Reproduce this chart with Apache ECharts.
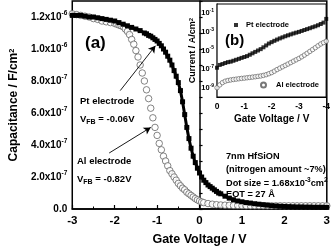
<!DOCTYPE html>
<html><head><meta charset="utf-8">
<script src="https://cdn.jsdelivr.net/npm/echarts@6/dist/echarts.min.js"></script>
<style>html,body{margin:0;padding:0;background:#fff}#c{width:333px;height:251px}</style>
</head><body><div id="c"></div>
<script>
// Main plot (a): C-V curves
const ptV = [-3.0,-2.9,-2.8,-2.7,-2.6,-2.5,-2.4,-2.3,-2.2,-2.1,-2.0,-1.9,-1.8,-1.7,-1.6,-1.5,-1.4,-1.3,-1.25,-1.2,-1.15,-1.1,-1.05,-1.0,-0.95,-0.9,-0.85,-0.8,-0.75,-0.7,-0.65,-0.6,-0.55,-0.5,-0.45,-0.4,-0.35,-0.3,-0.25,-0.2,-0.15,-0.1,-0.05,0.0,0.05,0.1,0.15,0.2,0.25,0.3,0.35,0.4,0.45,0.5,0.6,0.7,0.8,0.9,1.0,1.1,1.2,1.3,1.4,1.5,1.6,1.7,1.8,1.9,2.0,2.1,2.2,2.3,2.4,2.5,2.6,2.7,2.8,2.9,3.0];
const ptC = [1.21e-6,1.21e-6,1.21e-6,1.205e-6,1.20e-6,1.20e-6,1.195e-6,1.19e-6,1.185e-6,1.18e-6,1.175e-6,1.165e-6,1.155e-6,1.145e-6,1.135e-6,1.125e-6,1.115e-6,1.10e-6,1.095e-6,1.085e-6,1.08e-6,1.07e-6,1.06e-6,1.05e-6,1.035e-6,1.02e-6,1.0e-6,0.98e-6,0.955e-6,0.93e-6,0.90e-6,0.865e-6,0.83e-6,0.79e-6,0.74e-6,0.67e-6,0.59e-6,0.51e-6,0.44e-6,0.38e-6,0.33e-6,0.29e-6,0.255e-6,0.225e-6,0.20e-6,0.18e-6,0.165e-6,0.15e-6,0.14e-6,0.13e-6,0.12e-6,0.11e-6,0.10e-6,0.095e-6,0.08e-6,0.068e-6,0.058e-6,0.05e-6,0.045e-6,0.04e-6,0.037e-6,0.033e-6,0.03e-6,0.027e-6,0.024e-6,0.021e-6,0.019e-6,0.017e-6,0.016e-6,0.015e-6,0.014e-6,0.013e-6,0.013e-6,0.012e-6,0.012e-6,0.011e-6,0.011e-6,0.011e-6,0.010e-6];
const alV = [-3.0,-2.9,-2.8,-2.7,-2.6,-2.5,-2.4,-2.3,-2.2,-2.1,-2.0,-1.95,-1.9,-1.85,-1.8,-1.75,-1.7,-1.65,-1.6,-1.55,-1.5,-1.45,-1.4,-1.35,-1.3,-1.25,-1.2,-1.15,-1.1,-1.05,-1.0,-0.95,-0.9,-0.85,-0.8,-0.75,-0.7,-0.65,-0.6,-0.55,-0.5,-0.45,-0.4,-0.35,-0.3,-0.25,-0.2,-0.15,-0.1,-0.05,0.0,0.05,0.1,0.2,0.3,0.4,0.5,0.6,0.7,0.8,0.9,1.0,1.1,1.2,1.3,1.4,1.5,1.6,1.7,1.8,1.9,2.0,2.1,2.2,2.3,2.4,2.5,2.6,2.7,2.8,2.9,3.0];
const alC = [1.22e-6,1.215e-6,1.21e-6,1.205e-6,1.20e-6,1.19e-6,1.185e-6,1.175e-6,1.17e-6,1.165e-6,1.16e-6,1.155e-6,1.15e-6,1.145e-6,1.14e-6,1.125e-6,1.11e-6,1.09e-6,1.06e-6,1.03e-6,0.99e-6,0.95e-6,0.90e-6,0.85e-6,0.80e-6,0.745e-6,0.69e-6,0.63e-6,0.57e-6,0.51e-6,0.46e-6,0.41e-6,0.37e-6,0.33e-6,0.30e-6,0.27e-6,0.24e-6,0.22e-6,0.20e-6,0.18e-6,0.16e-6,0.145e-6,0.13e-6,0.12e-6,0.105e-6,0.095e-6,0.085e-6,0.075e-6,0.065e-6,0.057e-6,0.05e-6,0.044e-6,0.04e-6,0.034e-6,0.03e-6,0.027e-6,0.025e-6,0.024e-6,0.023e-6,0.022e-6,0.022e-6,0.021e-6,0.02e-6,0.02e-6,0.02e-6,0.02e-6,0.02e-6,0.02e-6,0.02e-6,0.02e-6,0.02e-6,0.02e-6,0.02e-6,0.02e-6,0.02e-6,0.02e-6,0.02e-6,0.02e-6,0.02e-6,0.02e-6,0.02e-6,0.02e-6];

// Inset (b): I-V curves
const ivV = [0,-0.1,-0.2,-0.3,-0.4,-0.5,-0.6,-0.7,-0.8,-0.9,-1.0,-1.1,-1.2,-1.3,-1.4,-1.5,-1.6,-1.7,-1.8,-1.9,-2.0,-2.1,-2.2,-2.3,-2.4,-2.5,-2.6,-2.7,-2.8,-2.9,-3.0,-3.1,-3.2,-3.3,-3.4,-3.5,-3.6,-3.7,-3.8,-3.9,-4.0];
const ptI = [1.4e-7,2.8e-7,3.5e-7,4.5e-7,5.6e-7,6.3e-7,7.9e-7,1.0e-6,1.26e-6,1.6e-6,2.0e-6,2.5e-6,3.5e-6,5.0e-6,7.1e-6,1.0e-5,1.4e-5,2.2e-5,3.5e-5,5.6e-5,7.9e-5,1.1e-4,1.5e-4,2.0e-4,2.6e-4,3.4e-4,4.3e-4,5.4e-4,6.8e-4,8.3e-4,1.0e-3,1.26e-3,1.6e-3,2.0e-3,2.5e-3,3.2e-3,4.0e-3,5.2e-3,7.1e-3,1.0e-2,2.5e-2];
const alI = [1.0e-9,2.0e-9,3.5e-9,5.0e-9,6.0e-9,6.8e-9,7.6e-9,8.3e-9,9.1e-9,1.0e-8,1.07e-8,1.17e-8,1.26e-8,1.38e-8,1.51e-8,1.66e-8,1.82e-8,2.1e-8,2.5e-8,3.2e-8,4.2e-8,6.0e-8,8.9e-8,1.26e-7,1.78e-7,2.5e-7,3.5e-7,5.0e-7,7.1e-7,1.0e-6,1.4e-6,2.1e-6,3.2e-6,5.0e-6,7.9e-6,1.26e-5,2.0e-5,3.2e-5,5.0e-5,7.1e-5,1.0e-4];

const yLabelStep = 2e-7;

const F = "'Liberation Sans', Arial, sans-serif";
const pair = (xs, ys) => xs.map((x, i) => [x, ys[i]]);

function capLabel(v) {
  const n = Math.round(v * 1e7);
  if (n % 2 !== 0) return '';
  if (n === 0) return '{m|0.0}';
  if (n >= 10) return '{m|' + (n / 10).toFixed(1) + 'x10}{s|-6}';
  return '{m|' + n.toFixed(1) + 'x10}{s|-7}';
}
function logLabel(v) {
  const e = Math.round(Math.log10(v));
  if (e % 2 === 0) return '';
  return '{m|10}{s|' + e + '}';
}
const txt = (left, top, text, size, rich) => ({
  type: 'text', left, top, z: 100,
  style: { text, fontFamily: F, fontWeight: 'bold', fontSize: size, fill: '#000', rich: rich || {} }
});
const subRich = {
  n: { fontFamily: F, fontWeight: 'bold', fontSize: 9.5, lineHeight: 13 },
  sub: { fontFamily: F, fontWeight: 'bold', fontSize: 7, verticalAlign: 'bottom' }
};
const supRich = {
  n: { fontFamily: F, fontWeight: 'bold', fontSize: 9.2, lineHeight: 13 },
  s: { fontFamily: F, fontWeight: 'bold', fontSize: 6.5, verticalAlign: 'top' }
};

const chart = echarts.init(document.getElementById('c'), null, { renderer: 'canvas' });
chart.setOption({
  animation: false,
  backgroundColor: '#fff',
  grid: [
    { left: 67, right: 3, top: 1, bottom: 38, show: true, borderColor: '#000', borderWidth: 1.5 },
    { left: 217, right: 4, top: 4, bottom: 154, show: true, backgroundColor: '#fff', borderColor: '#000', borderWidth: 1.2, z: 5 }
  ],
  legend: [
    { data: [{ name: 'Pt electrode', icon: 'rect' }], left: 234, top: 21, itemWidth: 4, itemHeight: 4, itemGap: 0, padding: 0, z: 20,
      textStyle: { fontFamily: F, fontWeight: 'bold', fontSize: 7.5, color: '#000', padding: [0, 0, 0, 3] } },
    { data: [{ name: 'Al electrode', icon: 'circle' }], left: 260, top: 81, itemWidth: 5, itemHeight: 5, itemGap: 0, padding: 0, z: 20,
      textStyle: { fontFamily: F, fontWeight: 'bold', fontSize: 7.5, color: '#000', padding: [0, 0, 0, 5] } }
  ],
  xAxis: [
    { gridIndex: 0, type: 'value', min: -3, max: 3, interval: 1,
      axisLine: { lineStyle: { color: '#000', width: 1.5 } },
      axisTick: { inside: true, length: 4, lineStyle: { color: '#000', width: 1.2 } },
      minorTick: { show: true, splitNumber: 2, length: 2.5, lineStyle: { color: '#000', width: 1 } },
      splitLine: { show: false },
      axisLabel: { margin: 6, color: '#000', fontFamily: F, fontWeight: 'bold', fontSize: 11.5 },
      name: 'Gate Voltage / V', nameLocation: 'middle', nameGap: 24,
      nameTextStyle: { color: '#000', fontFamily: F, fontWeight: 'bold', fontSize: 12.5 } },
    { gridIndex: 1, type: 'value', min: -4, max: 0, interval: 1, inverse: true,
      axisLine: { lineStyle: { color: '#000', width: 1.2 } },
      axisTick: { inside: true, length: 3, lineStyle: { color: '#000' } },
      minorTick: { show: true, splitNumber: 2, length: 2, lineStyle: { color: '#000' } },
      splitLine: { show: false },
      axisLabel: { margin: 5, color: '#000', fontFamily: F, fontWeight: 'bold', fontSize: 8.5 },
      name: 'Gate Voltage / V', nameLocation: 'middle', nameGap: 17,
      nameTextStyle: { color: '#000', fontFamily: F, fontWeight: 'bold', fontSize: 10 } }
  ],
  yAxis: [
    { gridIndex: 0, type: 'value', min: 0, max: 1.3e-6, interval: yLabelStep / 2,
      axisLine: { lineStyle: { color: '#000', width: 1.5 } },
      axisTick: { inside: true, length: 3, lineStyle: { color: '#000', width: 1.2 } },
      splitLine: { show: false },
      axisLabel: { margin: 5, color: '#000', formatter: capLabel,
        rich: { m: { fontFamily: F, fontWeight: 'bold', fontSize: 10, lineHeight: 15 },
                s: { fontFamily: F, fontWeight: 'bold', fontSize: 6.5, verticalAlign: 'top' } } },
      name: 'Capacitance / F/cm{s|2}', nameLocation: 'middle', nameGap: 52,
      nameTextStyle: { color: '#000', fontFamily: F, fontWeight: 'bold', fontSize: 12,
        rich: { s: { fontFamily: F, fontWeight: 'bold', fontSize: 7.5, verticalAlign: 'top' } } } },
    { gridIndex: 1, type: 'log', logBase: 10, min: 1e-10, max: 1, interval: 1,
      axisLine: { lineStyle: { color: '#000', width: 1.2 } },
      axisTick: { inside: true, length: 3, lineStyle: { color: '#000' } },
      minorTick: { show: false },
      splitLine: { show: false },
      axisLabel: { margin: 3, color: '#000', formatter: logLabel, showMinLabel: true, showMaxLabel: true,
        rich: { m: { fontFamily: F, fontWeight: 'bold', fontSize: 7.5, lineHeight: 10 },
                s: { fontFamily: F, fontWeight: 'bold', fontSize: 5, verticalAlign: 'top' } } },
      name: 'Current / A/cm{s|2}', nameLocation: 'middle', nameGap: 16,
      nameTextStyle: { color: '#000', fontFamily: F, fontWeight: 'bold', fontSize: 9,
        rich: { s: { fontFamily: F, fontWeight: 'bold', fontSize: 6, verticalAlign: 'top' } } } }
  ],
  series: [
    { name: 'Al (a)', type: 'scatter', xAxisIndex: 0, yAxisIndex: 0, data: pair(alV, alC),
      symbol: 'circle', symbolSize: 6.5, z: 3,
      itemStyle: { color: '#fff', borderColor: '#555', borderWidth: 0.9 },
      markLine: { silent: true, symbol: ['none', 'arrow'], symbolSize: [6, 7], label: { show: false },
        lineStyle: { color: '#000', width: 0.9, type: 'solid' },
        data: [[{ coord: [-2.13, 0.35e-6] }, { coord: [-1.15, 0.51e-6] }],
               [{ coord: [-1.87, 0.74e-6] }, { coord: [-1.04, 1.02e-6] }]] } },
    { name: 'Pt (a)', type: 'line', xAxisIndex: 0, yAxisIndex: 0, data: pair(ptV, ptC),
      symbol: 'rect', symbolSize: 5, showSymbol: true, z: 4,
      lineStyle: { color: '#000', width: 3 }, itemStyle: { color: '#000' } },
    { name: 'Pt electrode', type: 'scatter', xAxisIndex: 1, yAxisIndex: 1, data: pair(ivV, ptI),
      symbol: 'rect', symbolSize: 4, z: 10, itemStyle: { color: '#000' } },
    { name: 'Al electrode', type: 'scatter', xAxisIndex: 1, yAxisIndex: 1, data: pair(ivV, alI),
      symbol: 'circle', symbolSize: 4.5, z: 10, itemStyle: { color: '#fff', borderColor: '#555', borderWidth: 0.8 } }
  ],
  graphic: [
    txt(85, 35, '(a)', 17),
    txt(225, 33, '(b)', 15),
    txt(80, 96, 'Pt electrode', 9.5),
    txt(80, 114, '{n|V}{sub|FB}{n| = -0.06V}', 9.5, subRich),
    txt(77, 156, 'Al electrode', 9.5),
    txt(77, 174, '{n|V}{sub|FB}{n| = -0.82V}', 9.5, subRich),
    txt(226, 152, '7nm HfSiON', 9.2),
    txt(226, 165, '(nitrogen amount ~7%)', 9.2),
    txt(226, 177, '{n|Dot size = 1.68x10}{s|-3}{n|cm}{s|2}', 9.2, supRich),
    txt(226, 190, 'EOT = 27 Å', 9.2)
  ]
});
</script></body></html>
